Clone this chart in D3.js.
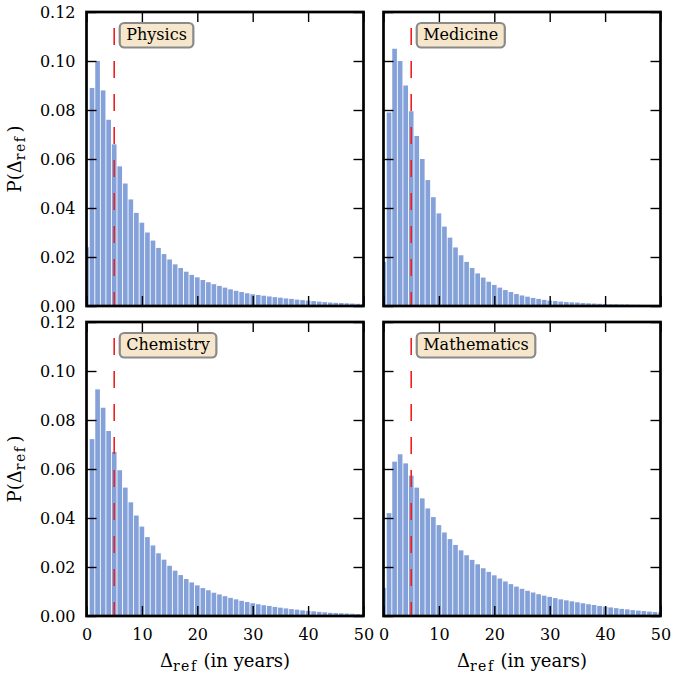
<!DOCTYPE html>
<html>
<head>
<meta charset="utf-8">
<script src="https://cdn.jsdelivr.net/npm/d3@7"></script>
<style>
  body { margin: 0; background: #fff; }
  svg text { font-family: 'DejaVu Serif', serif; fill: #000; }
</style>
</head>
<body>
<svg id="chart" width="675" height="677"></svg>
<script>
// bin centres (years between paper and reference)
const years = [0, 1, 2, 3, 4, 5, 6, 7, 8, 9, 10, 11, 12, 13, 14, 15, 16, 17, 18, 19, 20,
  21, 22, 23, 24, 25, 26, 27, 28, 29, 30, 31, 32, 33, 34, 35, 36, 37, 38, 39, 40,
  41, 42, 43, 44, 45, 46, 47, 48, 49, 50];

const physics = [0.024, 0.089, 0.100, 0.088, 0.076, 0.066, 0.057, 0.050, 0.0435, 0.038, 0.034,
  0.030, 0.0267, 0.0237, 0.0212, 0.019, 0.017, 0.0155, 0.014, 0.0127, 0.0117,
  0.0106, 0.0097, 0.0089, 0.0082, 0.0075, 0.0068, 0.0062, 0.0057, 0.0052, 0.0048,
  0.0045, 0.0042, 0.0039, 0.0036, 0.0034, 0.0031, 0.0029, 0.0026, 0.0024, 0.0022,
  0.0020, 0.0018, 0.0016, 0.0014, 0.0013, 0.0012, 0.0011, 0.0010, 0.0009, 0.0008];

const medicine = [0.018, 0.079, 0.105, 0.100, 0.090, 0.0795, 0.0694, 0.060, 0.0514, 0.0444, 0.0378,
  0.0324, 0.0279, 0.0239, 0.0207, 0.018, 0.0155, 0.0133, 0.0116, 0.0099, 0.0086,
  0.0075, 0.0065, 0.0057, 0.0049, 0.0043, 0.0038, 0.0033, 0.0029, 0.0025, 0.0022,
  0.0020, 0.0018, 0.0016, 0.0015, 0.0014, 0.0012, 0.0011, 0.0010, 0.0009, 0.0008,
  0.0007, 0.0007, 0.0006, 0.0006, 0.0005, 0.0005, 0.0004, 0.0004, 0.0004, 0.0003];

const chemistry = [0, 0.0722, 0.0925, 0.085, 0.0755, 0.067, 0.0595, 0.0524, 0.0464, 0.041, 0.0365,
  0.0322, 0.0288, 0.0256, 0.023, 0.0205, 0.0185, 0.0167, 0.0151, 0.0137, 0.0125,
  0.0114, 0.0105, 0.0095, 0.0088, 0.0081, 0.0074, 0.0068, 0.0062, 0.0057, 0.0052,
  0.0048, 0.0044, 0.0041, 0.0037, 0.0034, 0.0031, 0.0028, 0.0026, 0.0023, 0.0021,
  0.0019, 0.0017, 0.0015, 0.0013, 0.0012, 0.0011, 0.0010, 0.0009, 0.0008, 0.0007];

const mathematics = [0.0115, 0.042, 0.063, 0.066, 0.0623, 0.0573, 0.0524, 0.048, 0.0439, 0.0404, 0.0371,
  0.0341, 0.0314, 0.029, 0.0268, 0.0248, 0.0229, 0.0211, 0.0195, 0.018, 0.0166,
  0.0153, 0.0141, 0.013, 0.012, 0.0111, 0.0103, 0.0096, 0.0089, 0.0083, 0.0078,
  0.0073, 0.0068, 0.0064, 0.0060, 0.0056, 0.0052, 0.0048, 0.0045, 0.0041, 0.0038,
  0.0035, 0.0032, 0.0029, 0.0027, 0.0024, 0.0022, 0.0020, 0.0018, 0.0016, 0.0015];

const fields = ['Physics', 'Medicine', 'Chemistry', 'Mathematics'];
const series = [physics, medicine, chemistry, mathematics];
const xTicks = [0, 10, 20, 30, 40, 50];
const yTicks = [0, 0.02, 0.04, 0.06, 0.08, 0.10, 0.12];
const cutoff = 5;

const svg = d3.select('#chart');
const plotW = 277;
const plotH = 294;
const lefts = [86.5, 383.5];
const tops = [12, 322];
const barW = 0.84;

function drawPanel(name, values, i) {
  const col = i % 2;
  const row = Math.floor(i / 2);
  const left = lefts[col];
  const top = tops[row];

  const x = d3.scaleLinear().domain([0, 50]).range([left, left + plotW]);
  const y = d3.scaleLinear().domain([0, 0.12]).range([top + plotH, top]);

  const g = svg.append('g');

  g.append('clipPath').attr('id', 'clip' + i)
    .append('rect')
    .attr('x', x(0)).attr('y', y(0.12))
    .attr('width', x(50) - x(0)).attr('height', y(0) - y(0.12));

  // histogram bars
  g.append('g')
    .attr('clip-path', `url(#clip${i})`)
    .attr('fill', '#84a1d9')
    .selectAll('rect')
    .data(values).enter().append('rect')
    .attr('x', (d, k) => x(years[k] - barW / 2))
    .attr('width', x(barW) - x(0))
    .attr('y', d => y(d))
    .attr('height', d => y(0) - y(d));

  // cut-off line
  g.append('line')
    .attr('x1', x(cutoff)).attr('x2', x(cutoff))
    .attr('y1', y(0.12)).attr('y2', y(0))
    .attr('stroke', '#f01e1e')
    .attr('stroke-width', 1.6)
    .attr('stroke-dasharray', '17,16')
    .attr('stroke-dashoffset', 17);

  const styleAxis = a => a
    .call(s => s.select('.domain').remove())
    .call(s => s.selectAll('.tick line').attr('stroke', '#000').attr('stroke-width', 1.4))
    .call(s => s.selectAll('.tick text')
      .style('font-family', "'DejaVu Serif', serif")
      .style('font-size', '16px'));

  // inward ticks on all four sides
  g.append('g')
    .attr('transform', `translate(0,${y(0)})`)
    .call(d3.axisBottom(x).tickValues(xTicks).tickSize(-10).tickPadding(13)
      .tickFormat(row === 1 ? d3.format('d') : ''))
    .call(styleAxis);

  g.append('g')
    .attr('transform', `translate(0,${y(0.12)})`)
    .call(d3.axisTop(x).tickValues(xTicks).tickSize(-10).tickFormat(''))
    .call(styleAxis);

  g.append('g')
    .attr('transform', `translate(${x(0)},0)`)
    .call(d3.axisLeft(y).tickValues(yTicks).tickSize(-10).tickPadding(11)
      .tickFormat(col === 0 ? d3.format('.2f') : ''))
    .call(styleAxis);

  g.append('g')
    .attr('transform', `translate(${x(50)},0)`)
    .call(d3.axisRight(y).tickValues(yTicks).tickSize(-10).tickFormat(''))
    .call(styleAxis);

  // frame
  g.append('rect')
    .attr('x', x(0)).attr('y', y(0.12))
    .attr('width', x(50) - x(0)).attr('height', y(0) - y(0.12))
    .attr('fill', 'none')
    .attr('stroke', '#000')
    .attr('stroke-width', 2.7);

  // field label box
  const box = g.append('g');
  const t = box.append('text')
    .attr('x', x(6) + 6.5)
    .attr('y', top + 28)
    .style('font-size', '16px')
    .text(name);
  const w = t.node().getComputedTextLength();
  box.insert('rect', 'text')
    .attr('x', x(6))
    .attr('y', top + 11)
    .attr('width', w + 13)
    .attr('height', 24.5)
    .attr('rx', 4.5)
    .attr('fill', '#f6e6cb')
    .attr('stroke', '#8a8a8a')
    .attr('stroke-width', 2.2);

  if (row === 1) {
    const xl = g.append('text')
      .attr('x', (x(0) + x(50)) / 2)
      .attr('y', 667)
      .attr('text-anchor', 'middle')
      .style('font-size', '18px');
    xl.append('tspan').text('Δ');
    xl.append('tspan').attr('dy', 4).style('font-size', '14px').attr('letter-spacing', 1.5).text('ref');
    xl.append('tspan').attr('dy', -4).attr('dx', 6).text('(in years)');
  }

  if (col === 0) {
    const yl = g.append('text')
      .attr('transform', `translate(21,${(y(0) + y(0.12)) / 2})rotate(-90)`)
      .attr('text-anchor', 'middle')
      .style('font-size', '18px');
    yl.append('tspan').text('P(Δ');
    yl.append('tspan').attr('dy', 4).style('font-size', '14px').attr('letter-spacing', 1.5).text('ref');
    yl.append('tspan').attr('dy', -4).attr('dx', 3).text(')');
  }
}

fields.forEach((f, i) => drawPanel(f, series[i], i));
</script>
</body>
</html>
